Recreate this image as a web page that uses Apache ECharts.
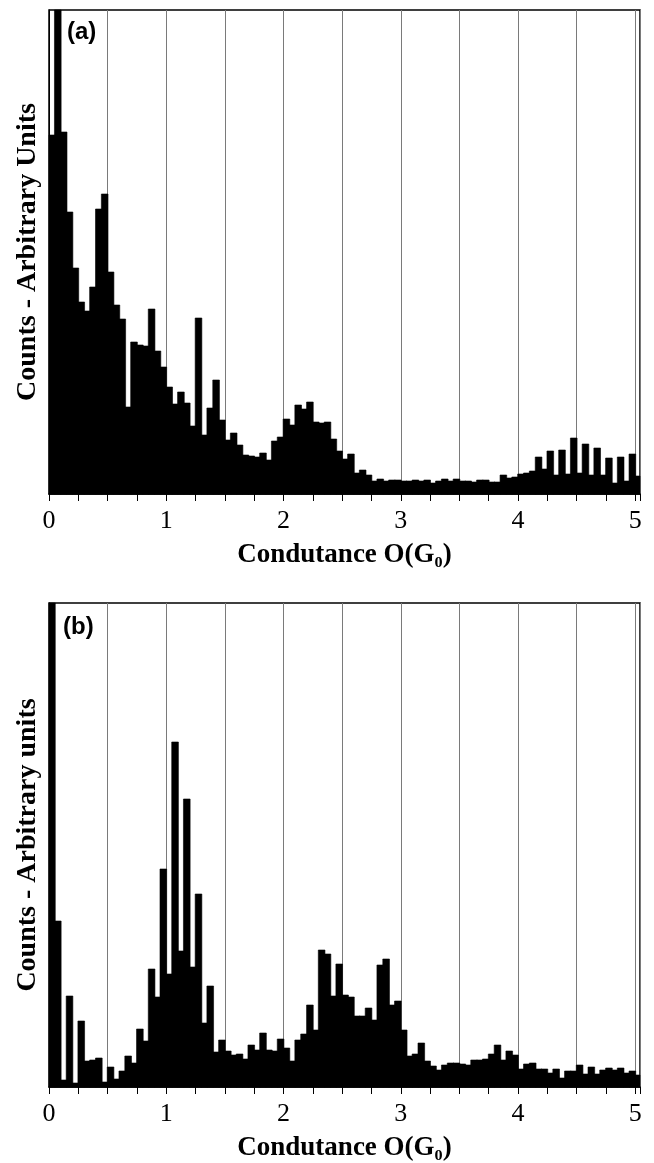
<!DOCTYPE html>
<html>
<head>
<meta charset="utf-8">
<script src="https://cdn.jsdelivr.net/npm/echarts@6/dist/echarts.min.js"></script>
<style>
  html, body { margin: 0; padding: 0; background: #fff; }
  #chart { width: 654px; height: 1163px; }
</style>
</head>
<body>
<div id="chart"></div>
<script>
// histogram bins are 0.05 G0 wide, starting at 0
const binWidth = 0.05;
const xMax = 5.04;

// panel (a) counts, arbitrary units (bin 1 runs off the top of the frame)
const countsA = [
  359, 520, 362, 282, 226, 192, 183, 207, 285, 300,
  222, 189, 175, 87, 152, 149, 148, 185, 143, 127,
  107, 90, 102, 91, 68, 176, 59, 86, 114, 74,
  54, 61, 49, 39, 38, 37, 41, 34, 53, 57,
  75, 69, 89, 85, 92, 72, 71, 72, 55, 43,
  35, 40, 21, 24, 19, 13, 15, 13, 14, 14,
  13, 13, 14, 13, 14, 11, 13, 15, 13, 15,
  13, 13, 12, 14, 14, 12, 12, 19, 16, 17,
  20, 21, 23, 37, 25, 43, 19, 44, 20, 56,
  21, 50, 19, 46, 19, 36, 11, 37, 13, 40,
  18
];

// panel (b) counts, arbitrary units (bin 0 runs off the top)
const countsB = [
  600, 166, 7, 91, 4, 66, 26, 27, 29, 5,
  20, 8, 16, 31, 24, 58, 46, 118, 90, 218,
  113, 345, 136, 288, 120, 193, 64, 101, 35, 47,
  36, 32, 33, 28, 42, 37, 54, 37, 36, 48,
  39, 26, 47, 53, 82, 57, 137, 133, 91, 123,
  92, 90, 71, 71, 79, 67, 122, 128, 82, 86,
  57, 31, 33, 44, 26, 21, 17, 22, 24, 24,
  23, 22, 27, 27, 28, 33, 42, 27, 36, 32,
  18, 23, 24, 18, 18, 14, 18, 9, 16, 16,
  22, 13, 20, 13, 17, 19, 17, 19, 14, 16,
  12
];

const yMaxA = 484;
const yMaxB = 484;

const serif = 'Liberation Serif, Times New Roman, serif';
const sans = 'Liberation Sans, Arial, sans-serif';

const toPairs = arr => arr.map((v, i) => [i * binWidth, v]);

const renderBin = (params, api) => {
  const x0 = api.value(0);
  const h = api.value(1);
  const p0 = api.coord([x0, h]);
  const p1 = api.coord([x0 + binWidth, 0]);
  const cs = params.coordSys;
  // widen a little so neighbouring bins merge without hairline gaps
  const rect = echarts.graphic.clipRectByRect(
    { x: p0[0] - 0.4, y: p0[1], width: p1[0] - p0[0] + 0.8, height: p1[1] - p0[1] },
    { x: cs.x, y: cs.y, width: cs.width, height: cs.height }
  );
  if (!rect) return;
  return {
    type: 'rect',
    shape: rect,
    style: { fill: '#000', stroke: '#000', lineWidth: 0.6 }
  };
};

const tickAxis = (gridIndex) => ({
  type: 'value',
  gridIndex,
  position: 'bottom',
  min: 0,
  max: xMax,
  interval: 0.25,
  name: 'Condutance O(G\u2080)',
  nameLocation: 'middle',
  nameGap: 48,
  nameTextStyle: { fontFamily: serif, fontWeight: 'bold', fontSize: 27, color: '#000' },
  axisLine: { show: true, onZero: false, lineStyle: { color: '#000', width: 1.5 } },
  axisTick: { show: true, inside: false, length: 7, lineStyle: { color: '#000', width: 1 } },
  axisLabel: {
    margin: 14,
    fontFamily: serif,
    fontSize: 26,
    color: '#000',
    formatter: v => (Math.abs(v - Math.round(v)) < 1e-6 ? String(Math.round(v)) : '')
  },
  splitLine: { show: false }
});

const gridAxis = (gridIndex) => ({
  type: 'value',
  gridIndex,
  position: 'top',
  min: 0,
  max: xMax,
  interval: 0.5,
  axisLine: { show: false },
  axisTick: { show: false },
  axisLabel: { show: false },
  splitLine: { show: true, lineStyle: { color: '#7a7a7a', width: 1 } }
});

const yAxisFor = (gridIndex, max, name) => ({
  type: 'value',
  gridIndex,
  min: 0,
  max,
  name,
  nameLocation: 'middle',
  nameRotate: 90,
  nameGap: 7,
  nameTextStyle: { fontFamily: serif, fontWeight: 'bold', fontSize: 28, color: '#000' },
  axisLine: { show: true, lineStyle: { color: '#000', width: 1 } },
  axisTick: { show: false },
  axisLabel: { show: false },
  splitLine: { show: false }
});

const chart = echarts.init(document.getElementById('chart'), null, { renderer: 'canvas' });

const option = {
  animation: false,
  backgroundColor: '#fff',
  grid: [
    { left: 49, top: 10, width: 591, height: 484, show: true, borderColor: '#000', borderWidth: 1.5 },
    { left: 49, top: 603, width: 591, height: 484, show: true, borderColor: '#000', borderWidth: 1.5 }
  ],
  xAxis: [tickAxis(0), gridAxis(0), tickAxis(1), gridAxis(1)],
  yAxis: [
    yAxisFor(0, yMaxA, 'Counts - Arbitrary Units'),
    yAxisFor(1, yMaxB, 'Counts - Arbitrary units')
  ],
  graphic: [
    { type: 'text', left: 67, top: 20, style: { text: '(a)', font: 'bold 24px ' + sans, fill: '#000' } },
    { type: 'text', left: 63, top: 615, style: { text: '(b)', font: 'bold 24px ' + sans, fill: '#000' } }
  ],
  series: [
    {
      type: 'custom',
      xAxisIndex: 0,
      yAxisIndex: 0,
      renderItem: renderBin,
      encode: { x: 0, y: 1 },
      data: toPairs(countsA)
    },
    {
      type: 'custom',
      xAxisIndex: 2,
      yAxisIndex: 1,
      renderItem: renderBin,
      encode: { x: 0, y: 1 },
      data: toPairs(countsB)
    }
  ]
};

chart.setOption(option);
</script>
</body>
</html>
